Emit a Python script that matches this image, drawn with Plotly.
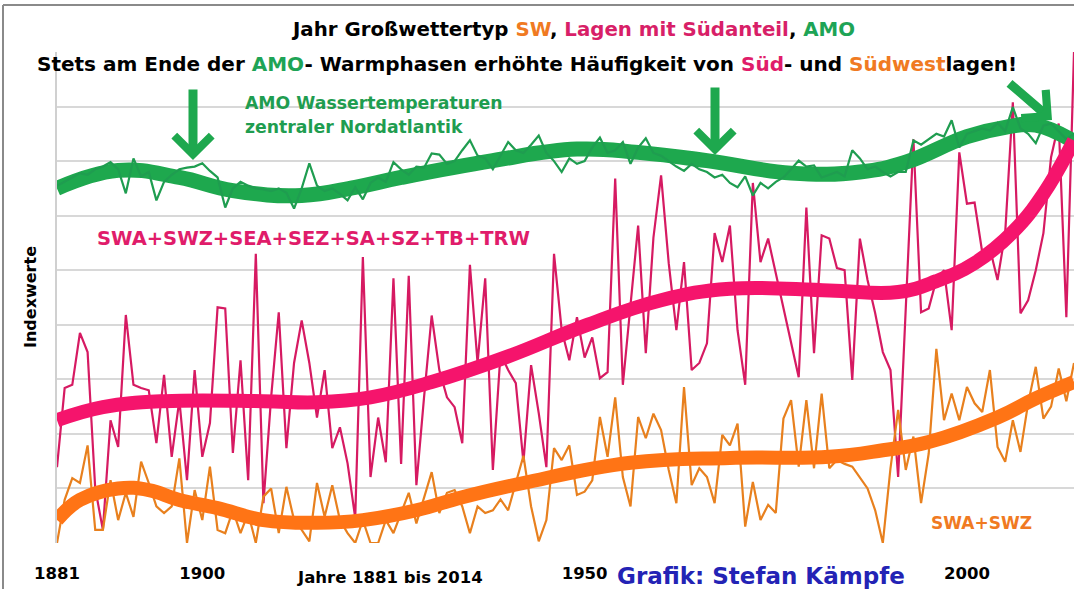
import plotly.graph_objects as go

years = list(range(1881, 2015))

amo = [6.55, 6.62, 6.7, 6.78, 6.75, 6.85, 6.9, 6.98, 6.85, 6.41,
       7.05, 6.72, 6.8, 6.28, 6.62, 6.75, 6.85, 6.88, 6.9, 6.96,
       6.82, 6.7, 6.15, 6.5, 6.62, 6.55, 6.5, 6.48, 6.45, 6.5,
       6.42, 6.13, 6.5, 6.96, 6.55, 6.45, 6.5, 6.4, 6.28, 6.52,
       6.3, 6.6, 6.7, 6.62, 6.98, 6.85, 6.75, 6.9, 6.88, 7.14,
       7.12, 6.95, 7.0, 7.2, 7.38, 7.1, 7.05, 6.85, 7.1, 7.35,
       7.2, 7.15, 7.3, 7.47, 7.15, 7.0, 6.8, 7.05, 6.95, 7.0,
       7.25, 7.43, 7.15, 7.2, 7.35, 6.95, 7.25, 7.42, 7.15, 7.1,
       7.0, 6.9, 6.82, 6.95, 6.85, 6.8, 6.7, 6.75, 6.6, 6.52,
       6.72, 6.37, 6.6, 6.5, 6.62, 6.7, 6.85, 7.01, 6.9, 6.92,
       6.7, 6.75, 6.8, 6.72, 7.2, 7.05, 6.85, 6.9, 6.8, 6.72,
       6.8, 6.8, 7.38, 7.3, 7.4, 7.5, 7.45, 7.75, 7.25, 7.5,
       7.55, 7.6, 7.56, 7.7, 7.55, 7.99, 7.6, 7.5, 7.33, 7.65,
       7.69, 7.55, 7.4, 7.5]

sued = [1.39, 2.84, 2.9, 3.85, 3.5, 1.0, 0.24, 2.25, 1.76, 4.18,
        2.9, 2.84, 2.8, 1.83, 3.08, 1.58, 2.62, 1.15, 3.17, 1.58,
        2.2, 4.32, 4.3, 1.65, 3.35, 1.15, 5.3, 0.73, 2.67, 4.23,
        1.74, 3.3, 4.08, 3.3, 2.3, 3.17, 1.74, 2.12, 1.46, 0.46,
        5.24, 1.21, 2.3, 1.48, 4.85, 1.45, 4.9, 1.06, 2.67, 4.17,
        3.17, 2.67, 2.49, 1.83, 5.1, 3.3, 4.85, 1.34, 3.47, 3.17,
        2.93, 1.48, 3.26, 2.38, 1.39, 5.3, 3.9, 3.35, 4.14, 3.4,
        3.77, 3.02, 3.13, 6.68, 2.9, 4.4, 5.82, 3.48, 5.6, 6.74,
        5.13, 3.9, 5.15, 3.17, 3.3, 3.66, 5.68, 5.15, 5.82, 3.9,
        2.9, 6.6, 5.15, 5.58, 4.94, 4.33, 3.72, 3.04, 6.15, 3.48,
        5.64, 5.58, 5.04, 5.0, 2.99, 5.58, 4.82, 4.21, 3.5, 3.17,
        1.21, 4.3, 7.4, 4.23, 4.3, 4.82, 5.0, 3.9, 7.16, 6.22,
        6.24, 5.33, 5.4, 4.82, 5.68, 8.08, 4.21, 4.45, 5.0, 5.68,
        7.07, 7.69, 4.14, 9.0]

sw = [0.0, 0.79, 1.19, 1.1, 1.79, 0.24, 0.24, 1.15, 0.42, 0.92,
      0.48, 1.49, 1.1, 0.67, 0.55, 0.67, 1.55, 0.0, 0.97, 0.42,
      1.4, 0.24, 0.18, 0.6, 0.18, 0.55, 0.0, 0.85, 1.0, 0.18,
      1.03, 0.42, 0.24, 0.03, 1.1, 0.48, 1.06, 0.42, 0.18, 0.0,
      0.42, 0.0, 0.0, 0.42, 0.18, 0.55, 0.92, 0.36, 0.85, 1.3,
      0.55, 0.92, 0.97, 0.67, 0.18, 0.67, 0.55, 0.6, 0.8, 0.6,
      1.1, 1.6, 0.67, 0.03, 0.42, 1.74, 1.52, 1.79, 0.88, 0.94,
      1.15, 2.31, 1.58, 2.67, 1.21, 0.67, 2.31, 1.92, 2.37, 2.07,
      1.34, 0.73, 2.86, 1.06, 1.37, 1.21, 0.73, 1.98, 1.79, 2.19,
      0.3, 1.12, 0.42, 0.7, 0.55, 2.28, 2.62, 1.4, 2.62, 1.37,
      2.74, 1.37, 1.52, 1.45, 1.4, 1.2, 1.0, 0.6, 0.0, 1.37,
      2.44, 1.34, 1.95, 0.73, 1.64, 3.56, 2.25, 2.74, 2.25, 2.86,
      2.56, 2.4, 3.17, 1.76, 1.49, 2.25, 1.67, 2.56, 3.23, 2.28,
      2.5, 3.2, 2.6, 3.3]

amo_trend_years = [1881, 1889, 1897, 1904, 1913, 1920, 1926, 1938, 1949, 1957,
                   1966, 1977, 1986, 1992, 2000, 2005, 2009, 2014]
amo_trend = [6.5, 6.83, 6.7, 6.46, 6.37, 6.52, 6.7, 7.01, 7.22, 7.16,
             7.01, 6.78, 6.8, 6.98, 7.45, 7.62, 7.66, 7.36]

sued_trend_years = [1881, 1887, 1895, 1908, 1915, 1922, 1930, 1940, 1950,
                    1960, 1969, 1982, 1991, 1996, 2001, 2006, 2010, 2014]
sued_trend = [2.25, 2.49, 2.6, 2.6, 2.58, 2.67, 2.95, 3.42, 3.98,
              4.45, 4.66, 4.63, 4.6, 4.8, 5.13, 5.7, 6.4, 7.38]

sw_trend_years = [1881, 1884, 1889, 1893, 1897, 1902, 1908, 1915, 1921, 1928,
                  1934, 1942, 1956, 1969, 1982, 1989, 1995, 2004, 2009, 2014]
sw_trend = [0.42, 0.79, 1.0, 0.97, 0.79, 0.64, 0.42, 0.37, 0.42, 0.6,
            0.84, 1.1, 1.47, 1.56, 1.58, 1.7, 1.85, 2.3, 2.65, 2.95]

tick_years = [1881, 1900, 1950, 2000]
tick_text = ["1881", "1900", "1950", "2000"]

C_GREEN = "#1ea84e"
C_GREEN_THIN = "#1f9d50"
C_PINK = "#f5146c"
C_PINK_THIN = "#d61a62"
C_ORANGE = "#ff7415"
C_ORANGE_THIN = "#e8801e"
FONT = "DejaVu Sans"

L, R, T, B = 57, 0, 52, 46
W, H = 1074, 589
PW, PH = W - L - R, H - T - B


def px(x):
    return (x - L) / PW


def py(y):
    return (H - B - y) / PH


fig = go.Figure()
fig.add_trace(go.Scatter(x=years, y=sued, mode="lines",
                         line=dict(color=C_PINK_THIN, width=2.2), hoverinfo="skip"))
fig.add_trace(go.Scatter(x=years, y=sw, mode="lines",
                         line=dict(color=C_ORANGE_THIN, width=2.2), hoverinfo="skip"))
fig.add_trace(go.Scatter(x=amo_trend_years, y=amo_trend, mode="lines",
                         line=dict(color=C_GREEN, width=15, shape="spline", smoothing=1.2),
                         hoverinfo="skip"))
fig.add_trace(go.Scatter(x=years, y=amo, mode="lines",
                         line=dict(color=C_GREEN_THIN, width=2.2), hoverinfo="skip"))
fig.add_trace(go.Scatter(x=sued_trend_years, y=sued_trend, mode="lines",
                         line=dict(color=C_PINK, width=14, shape="spline", smoothing=1.2),
                         hoverinfo="skip"))
fig.add_trace(go.Scatter(x=sw_trend_years, y=sw_trend, mode="lines",
                         line=dict(color=C_ORANGE, width=14, shape="spline", smoothing=1.2),
                         hoverinfo="skip"))

ann = []


def text(x, y, t, size, color="black", bold=True, xanchor="center"):
    if bold:
        t = "<b>" + t + "</b>"
    ann.append(dict(xref="paper", yref="paper", x=px(x), y=py(y), text=t,
                    showarrow=False, xanchor=xanchor, yanchor="middle",
                    font=dict(family=FONT, size=size, color=color)))


text(573, 30, "Jahr Großwettertyp <span style='color:#f07a22'>SW</span>, "
     "<span style='color:#d81f68'>Lagen mit Südanteil</span>, "
     "<span style='color:#1ea456'>AMO</span>", 19.8)
text(527, 64, "Stets am Ende der <span style='color:#1ea456'>AMO</span>- Warmphasen erhöhte "
     "Häufigkeit von <span style='color:#e01c6a'>Süd</span>- und "
     "<span style='color:#f07a22'>Südwest</span>lagen!", 20)
text(243, 103, "AMO Wassertemperaturen", 17.3, C_GREEN_THIN, xanchor="left")
text(243, 127, "zentraler Nordatlantik", 17.3, C_GREEN_THIN, xanchor="left")
text(313, 238, "SWA+SWZ+SEA+SEZ+SA+SZ+TB+TRW", 19.5, "#e01c6a")
text(981, 523, "SWA+SWZ", 17, "#f07a22")
text(390, 577, "Jahre 1881 bis 2014", 16.5)
text(761, 576, "Grafik: Stefan Kämpfe", 23, "#2323b5")
ann.append(dict(xref="paper", yref="paper", x=px(30), y=py(297), text="<b>Indexwerte</b>",
                showarrow=False, textangle=-90, xanchor="center", yanchor="middle",
                font=dict(family=FONT, size=16, color="black")))


def arrow(tx, ty, sx, sy):
    ann.append(dict(xref="paper", yref="paper", x=px(tx), y=py(ty), ax=sx - tx, ay=sy - ty,
                    text="", showarrow=True, arrowhead=4, arrowsize=0.8, arrowwidth=9,
                    arrowcolor=C_GREEN))


arrow(193, 160, 193, 88)
arrow(715, 155, 715, 86)
arrow(1052, 120, 1008, 82)

fig.update_layout(
    width=W, height=H,
    margin=dict(l=L, r=R, t=T, b=B),
    paper_bgcolor="white", plot_bgcolor="white",
    showlegend=False,
    annotations=ann,
    xaxis=dict(range=[1881, 2014], showgrid=False, zeroline=False, showline=False,
               tickvals=tick_years, ticktext=tick_text, ticks="",
               ticklabelstandoff=18,
               tickfont=dict(family=FONT, size=16.5, color="black", weight="bold")),
    yaxis=dict(range=[0, 9], dtick=1, showgrid=True, gridcolor="#d8d8d8", gridwidth=1.5,
               zeroline=False, showticklabels=False, showline=True, linecolor="#d0d0d0",
               linewidth=1.5),
    shapes=[
        dict(type="line", xref="paper", yref="paper", x0=px(3), x1=1.0, y0=py(5), y1=py(5),
             line=dict(color="#8a8a8a", width=2)),
        dict(type="line", xref="paper", yref="paper", x0=px(3), x1=px(3), y0=py(5), y1=py(589),
             line=dict(color="#8a8a8a", width=2)),
    ],
)

fig.write_html("out.html", config={"displayModeBar": False},
               post_script="document.body.style.margin='0px';"
               "document.body.style.overflow='hidden';")
